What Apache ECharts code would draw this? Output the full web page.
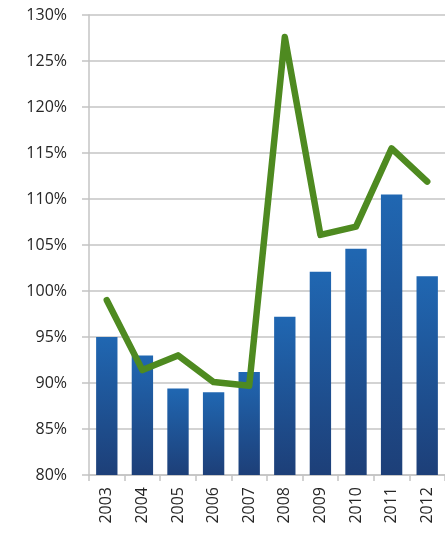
<!DOCTYPE html>
<html>
<head>
<meta charset="utf-8">
<script src="https://cdn.jsdelivr.net/npm/echarts@6/dist/echarts.min.js"></script>
<style>
  html, body { margin: 0; padding: 0; background: #fff; }
  #chart { width: 445px; height: 542px; }
</style>
</head>
<body>
<div id="chart"></div>
<script>
// Years on the category axis
const years = ['2003', '2004', '2005', '2006', '2007', '2008', '2009', '2010', '2011', '2012'];
// Bar series (percent)
const barValues = [95.0, 93.0, 89.4, 89.0, 91.2, 97.2, 102.1, 104.6, 110.5, 101.6];
// Line series (percent)
const lineValues = [99.0, 91.4, 93.0, 90.1, 89.7, 127.6, 106.1, 107.0, 115.5, 111.9];
// Value axis range and step (percent)
const yMin = 80, yMax = 130, yStep = 5;

const chart = echarts.init(document.getElementById('chart'), null, { renderer: 'canvas' });

const gridColor = '#c4c4c4';
const labelFont = { fontFamily: 'Open Sans', fontSize: 16, color: '#262626' };

chart.setOption({
  animation: false,
  backgroundColor: '#ffffff',
  grid: { left: 89, top: 15, width: 363, bottom: 67, containLabel: false },
  xAxis: {
    type: 'category',
    data: years,
    boundaryGap: true,
    axisLine: { lineStyle: { color: gridColor, width: 1.5 } },
    axisTick: { show: true, length: 6, lineStyle: { color: gridColor, width: 1.5 } },
    axisLabel: Object.assign({ rotate: 90, margin: 12, interval: 0 }, labelFont),
    splitLine: { show: false }
  },
  yAxis: {
    type: 'value',
    min: yMin,
    max: yMax,
    interval: yStep,
    axisLine: { show: true, lineStyle: { color: gridColor, width: 1.5 } },
    axisTick: { show: true, length: 7, lineStyle: { color: gridColor, width: 1.5 } },
    axisLabel: Object.assign({ margin: 22, formatter: '{value}%' }, labelFont),
    splitLine: { show: true, lineStyle: { color: gridColor, width: 1.5 } }
  },
  series: [
    {
      type: 'bar',
      data: barValues,
      barWidth: '60%',
      itemStyle: {
        color: new echarts.graphic.LinearGradient(0, 0, 0, 1, [
          { offset: 0, color: '#2067b2' },
          { offset: 1, color: '#1d3f78' }
        ])
      },
      z: 2
    },
    {
      type: 'line',
      data: lineValues,
      symbol: 'none',
      lineStyle: { color: '#4e8a20', width: 6.5, join: 'round', cap: 'round' },
      z: 3
    }
  ]
});
</script>
</body>
</html>
